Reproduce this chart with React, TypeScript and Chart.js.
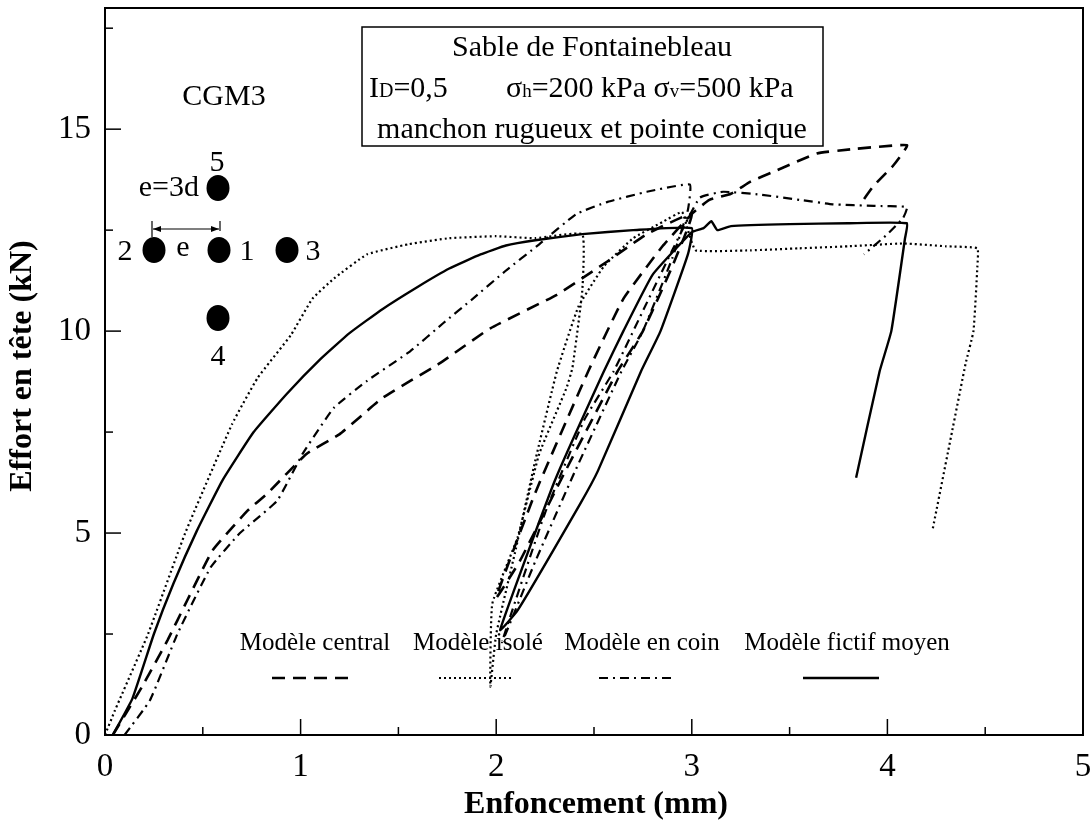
import React, { useEffect, useRef } from "react";
import { Chart, registerables } from "chart.js";

Chart.register(...registerables);

// ---- axis ticks ----
const xTicks = [0, 1, 2, 3, 4, 5];
const yTicks = [0, 5, 10, 15];
const xMinorTicks = [0.5, 1.5, 2.5, 3.5, 4.5];
const yMinorTicks = [2.5, 7.5, 12.5, 17.5];

// ---- series: Modèle central (dashed) ----
const centralX = [0.04, 0.19, 0.32, 0.42, 0.55, 0.73, 0.83, 1.03, 1.2, 1.42, 1.71, 1.97, 2.31, 2.57, 2.77, 3.0,
  2.9, 2.75, 2.62, 2.35, 2.12, 2.0,
  2.2, 2.47, 2.65, 2.85, 3.0, 3.09, 3.2, 3.3, 3.42, 3.64, 3.81, 4.1,
  4.03, 3.93, 3.87];
const centralY = [0, 1.2, 2.35, 3.33, 4.57, 5.56, 5.98, 6.96, 7.45, 8.35, 9.2, 10.07, 10.9, 11.73, 12.4, 12.9,
  11.6, 10.0, 9.0, 6.5, 4.3, 3.4,
  6.0, 9.0, 10.8, 12.1, 12.9, 13.25, 13.4, 13.7, 13.95, 14.4, 14.5, 14.6,
  14.1, 13.6, 13.2];

// ---- series: Modèle isolé (dotted) ----
const isoleX = [0.0, 0.05, 0.22, 0.41, 0.65, 0.78, 0.95, 1.06, 1.17, 1.34, 1.55, 1.76, 2.0, 2.2, 2.44,
  2.44, 2.39, 2.36, 2.22, 2.11, 1.98, 1.97,
  2.0, 2.1, 2.2, 2.31, 2.42, 2.55, 2.7, 2.85, 2.95, 2.98, 3.02, 3.3, 3.55, 3.8, 4.08, 4.3, 4.46,
  4.46, 4.44, 4.4, 4.33, 4.23];
const isoleY = [0, 0.6, 2.5, 5.0, 7.7, 8.84, 9.9, 10.8, 11.3, 11.9, 12.15, 12.3, 12.35, 12.3, 12.4,
  11.0, 9.1, 8.6, 6.96, 4.9, 3.25, 1.2,
  2.5, 4.6, 6.8, 9.0, 10.6, 11.6, 12.3, 12.7, 12.95, 12.5, 12.0, 12.0, 12.05, 12.1, 12.17, 12.1, 12.05,
  11.6, 10.0, 9.2, 7.5, 5.06];

// ---- series: Modèle en coin (dash-dot) ----
const coinX = [0.1, 0.23, 0.37, 0.54, 0.69, 0.88, 1.01, 1.17, 1.34, 1.56, 1.73, 1.88, 2.05, 2.22, 2.41, 2.57, 2.77, 2.99,
  2.98, 2.9, 2.75, 2.64, 2.4, 2.2, 2.03,
  2.25, 2.45, 2.6, 2.75, 2.9, 3.04, 3.16, 3.35, 3.55, 3.72, 3.93, 4.1,
  4.08, 4.0, 3.88];
const coinY = [0, 0.86, 2.5, 4.15, 5.0, 5.8, 6.96, 8.1, 8.77, 9.5, 10.2, 10.8, 11.5, 12.15, 12.9, 13.2, 13.45, 13.63,
  13.0, 11.8, 10.0, 9.0, 6.5, 4.3, 2.3,
  5.5, 7.8, 9.0, 10.5, 12.0, 13.3, 13.45, 13.38, 13.25, 13.14, 13.1, 13.07,
  12.8, 12.4, 11.9];

// ---- series: Modèle fictif moyen (solid) ----
const fictifX = [0.04, 0.14, 0.25, 0.35, 0.47, 0.6, 0.76, 0.93, 1.1, 1.25, 1.42, 1.6, 1.76, 1.92, 2.05, 2.2, 2.44, 2.7, 3.0,
  2.98, 2.84, 2.74, 2.52, 2.43, 2.11, 2.02,
  2.3, 2.55, 2.65, 2.8, 3.0, 3.06, 3.1, 3.13, 3.2, 3.5, 3.8, 4.1,
  4.09, 4.02, 3.96, 3.84];
const fictifY = [0, 0.9, 2.5, 3.75, 5.06, 6.3, 7.5, 8.45, 9.3, 9.95, 10.55, 11.1, 11.55, 11.9, 12.12, 12.25, 12.4, 12.5, 12.55,
  11.9, 10.0, 9.0, 6.54, 5.73, 3.09, 2.6,
  6.3, 9.0, 10.0, 11.4, 12.45, 12.55, 12.72, 12.5, 12.6, 12.65, 12.67, 12.67,
  12.3, 10.0, 9.0, 6.37];

const legendLabels = ["Modèle central", "Modèle isolé", "Modèle en coin", "Modèle fictif moyen"];

const SERIF = "'Liberation Serif', 'Times New Roman', serif";

function zip(xs: number[], ys: number[]) {
  return xs.map((x, i) => ({ x, y: ys[i] }));
}

const styles = [
  { dash: [13, 8], width: 2.6 },
  { dash: [2, 3], width: 2.2 },
  { dash: [9, 5, 2, 5], width: 2.2 },
  { dash: [], width: 2.4 },
];

const decorPlugin = {
  id: "decor",
  afterDraw(chart: any) {
    const ctx = chart.ctx as CanvasRenderingContext2D;
    const { left, right, top, bottom } = chart.chartArea;
    const xs = chart.scales.x;
    const ys = chart.scales.y;
    ctx.save();
    ctx.strokeStyle = "#000";
    ctx.fillStyle = "#000";
    ctx.setLineDash([]);
    // frame
    ctx.lineWidth = 2;
    ctx.strokeRect(left, top, right - left, bottom - top);
    // inward ticks
    ctx.lineWidth = 1.5;
    const tick = (x1: number, y1: number, x2: number, y2: number) => {
      ctx.beginPath();
      ctx.moveTo(x1, y1);
      ctx.lineTo(x2, y2);
      ctx.stroke();
    };
    xTicks.forEach((v) => { const p = xs.getPixelForValue(v); tick(p, bottom, p, bottom - 16); });
    xMinorTicks.forEach((v) => { const p = xs.getPixelForValue(v); tick(p, bottom, p, bottom - 8); });
    yTicks.forEach((v) => { const p = ys.getPixelForValue(v); tick(left, p, left + 16, p); });
    yMinorTicks.forEach((v) => { const p = ys.getPixelForValue(v); tick(left, p, left + 8, p); });

    // axis titles
    ctx.font = `bold 32px ${SERIF}`;
    ctx.textAlign = "center";
    ctx.textBaseline = "middle";
    ctx.fillText("Enfoncement (mm)", 596, 805);
    ctx.save();
    ctx.translate(23, 366);
    ctx.rotate(-Math.PI / 2);
    ctx.fillText("Effort en tête (kN)", 0, 0);
    ctx.restore();

    // info box
    ctx.lineWidth = 1.5;
    ctx.strokeRect(362, 27, 461, 119);
    ctx.font = `30px ${SERIF}`;
    ctx.textAlign = "center";
    ctx.textBaseline = "alphabetic";
    ctx.fillText("Sable de Fontainebleau", 592, 56);
    ctx.fillText("manchon rugueux et pointe conique", 592, 138);
    // line with subscripts
    const drawParts = (parts: [string, number][], x0: number, y0: number) => {
      let cx = x0;
      ctx.textAlign = "left";
      parts.forEach(([t, s]) => {
        ctx.font = `${s}px ${SERIF}`;
        ctx.fillText(t, cx, y0);
        cx += ctx.measureText(t).width;
      });
    };
    drawParts([["I", 30], ["D", 20], ["=0,5", 30]], 369, 97);
    drawParts([["σ", 30], ["h", 19], ["=200 kPa σ", 30], ["v", 19], ["=500 kPa", 30]], 506, 97);

    // CGM3 diagram
    ctx.font = `30px ${SERIF}`;
    ctx.textAlign = "center";
    ctx.textBaseline = "middle";
    ctx.fillText("CGM3", 224, 97);
    ctx.fillText("5", 217, 163);
    ctx.fillText("4", 218, 357);
    ctx.fillText("2", 125, 252);
    ctx.fillText("e", 183, 248);
    ctx.fillText("1", 247, 252);
    ctx.fillText("3", 313, 252);
    ctx.textAlign = "right";
    ctx.fillText("e=3d", 199, 188);
    const dot = (x: number, y: number) => {
      ctx.beginPath();
      ctx.ellipse(x, y, 11.5, 13, 0, 0, Math.PI * 2);
      ctx.fill();
    };
    dot(218, 188);
    dot(154, 250);
    dot(219, 250);
    dot(287, 250);
    dot(218, 318);
    // dimension arrow
    ctx.lineWidth = 1.2;
    tick(152, 221, 152, 237);
    tick(220, 221, 220, 231);
    tick(153, 229, 219, 229);
    ctx.beginPath();
    ctx.moveTo(153, 229); ctx.lineTo(161, 226); ctx.lineTo(161, 232); ctx.closePath(); ctx.fill();
    ctx.beginPath();
    ctx.moveTo(219, 229); ctx.lineTo(211, 226); ctx.lineTo(211, 232); ctx.closePath(); ctx.fill();

    // legend
    const legendText = [315, 478, 642, 847];
    const legendLine: [number, number][] = [[272, 353], [439, 512], [599, 675], [803, 879]];
    ctx.font = `25px ${SERIF}`;
    ctx.textAlign = "center";
    ctx.textBaseline = "middle";
    legendLabels.forEach((lab, i) => {
      ctx.fillText(lab, legendText[i], 643);
      ctx.lineWidth = styles[i].width;
      ctx.setLineDash(styles[i].dash);
      ctx.beginPath();
      ctx.moveTo(legendLine[i][0], 678);
      ctx.lineTo(legendLine[i][1], 678);
      ctx.stroke();
    });
    ctx.restore();
  },
};

export default function App() {
  const ref = useRef<HTMLCanvasElement | null>(null);
  useEffect(() => {
    document.body.style.margin = "0";
    const canvas = ref.current;
    if (!canvas) return;
    const series = [zip(centralX, centralY), zip(isoleX, isoleY), zip(coinX, coinY), zip(fictifX, fictifY)];
    const chart = new Chart(canvas, {
      type: "scatter",
      data: {
        datasets: series.map((pts, i) => ({
          label: legendLabels[i],
          data: pts,
          showLine: true,
          borderColor: "#000",
          backgroundColor: "#000",
          borderWidth: styles[i].width,
          borderDash: styles[i].dash,
          pointRadius: 0,
          tension: 0.12,
          fill: false,
        })),
      },
      options: {
        responsive: false,
        animation: false,
        layout: { padding: { top: 8, right: 7, left: 0, bottom: 0 } },
        plugins: { legend: { display: false }, tooltip: { enabled: false }, title: { display: false } },
        scales: {
          x: {
            type: "linear",
            min: 0,
            max: 5,
            afterFit: (s: any) => { s.height = 88; s.paddingLeft = 0; s.paddingRight = 0; },
            grid: { display: false, drawTicks: false },
            border: { display: false },
            ticks: {
              stepSize: 1,
              includeBounds: false,
              padding: 13,
              color: "#000",
              font: { family: SERIF, size: 33 },
              maxRotation: 0,
              autoSkip: false,
            },
          },
          y: {
            type: "linear",
            min: 0,
            max: 18,
            afterFit: (s: any) => { s.width = 105; s.paddingTop = 0; s.paddingBottom = 0; },
            grid: { display: false, drawTicks: false },
            border: { display: false },
            ticks: {
              stepSize: 5,
              includeBounds: false,
              padding: 14,
              color: "#000",
              font: { family: SERIF, size: 33 },
              autoSkip: false,
            },
          },
        },
      },
      plugins: [decorPlugin],
    });
    return () => chart.destroy();
  }, []);
  return (
    <canvas ref={ref} width={1090} height={823} style={{ display: "block", width: 1090, height: 823 }} />
  );
}
